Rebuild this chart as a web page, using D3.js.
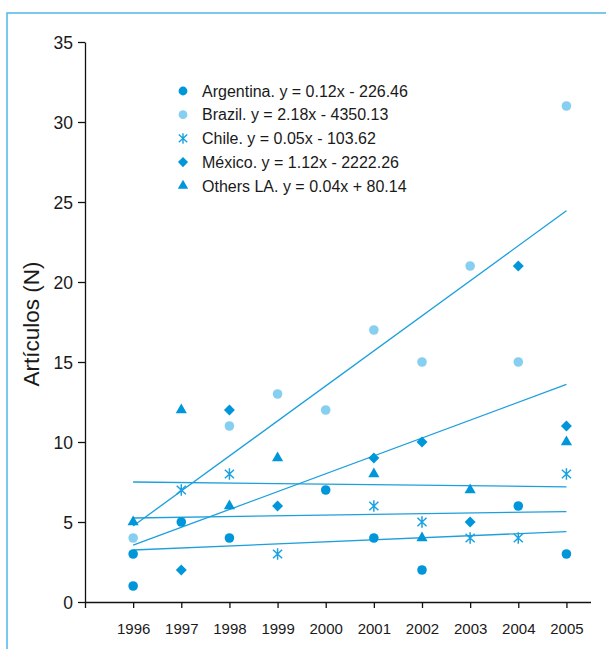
<!DOCTYPE html>
<html>
<head>
<meta charset="utf-8">
<title>Artículos por país</title>
<script src="https://cdn.jsdelivr.net/npm/d3@7/dist/d3.min.js"></script>
<style>
  body { margin: 0; background: #fff; }
  text { font-family: "Liberation Sans", Arial, sans-serif; fill: #1a1a1a; }
</style>
</head>
<body>
<svg width="606" height="649"></svg>
<script>
    // years on the x axis (1995 is only a bare tick at the origin)
    const years = [1996, 1997, 1998, 1999, 2000, 2001, 2002, 2003, 2004, 2005];
    const yTicks = [0, 5, 10, 15, 20, 25, 30, 35];

    // [year, articles]
    const argentina = [[1996, 1], [1996, 3], [1997, 5], [1998, 4], [2000, 7], [2001, 4], [2002, 2], [2004, 6], [2005, 3]];
    const brazil = [[1996, 4], [1998, 11], [1999, 13], [2000, 12], [2001, 17], [2002, 15], [2003, 21], [2004, 15], [2005, 31]];
    const chile = [[1997, 7], [1998, 8], [1999, 3], [2001, 6], [2002, 5], [2003, 4], [2004, 4], [2005, 8]];
    const mexico = [[1997, 2], [1998, 12], [1999, 6], [2001, 9], [2002, 10], [2003, 5], [2004, 21], [2005, 11]];
    const others = [[1996, 5], [1997, 12], [1998, 6], [1999, 9], [2001, 8], [2002, 4], [2003, 7], [2005, 10]];

    // trend line values at 1996 and 2005
    const trendStart = [3.25, 4.75, 5.25, 3.55, 7.5];
    const trendEnd = [4.4, 24.45, 5.65, 13.6, 7.2];

    const labels = [
        "Argentina. y = 0.12x - 226.46",
        "Brazil. y = 2.18x - 4350.13",
        "Chile. y = 0.05x - 103.62",
        "México. y = 1.12x - 2222.26",
        "Others LA. y = 0.04x + 80.14"
    ];

    const dark = "#0096da";
    const light = "#86cff0";
    const lineColor = "#1c9fdc";

    // Chile marker: X with a vertical bar
    const asterisk = {
        draw(ctx, size) {
            const r = Math.sqrt(size) / 2;
            ctx.moveTo(0, -r); ctx.lineTo(0, r);
            ctx.moveTo(-r * 0.8, -r * 0.75); ctx.lineTo(r * 0.8, r * 0.75);
            ctx.moveTo(r * 0.8, -r * 0.75); ctx.lineTo(-r * 0.8, r * 0.75);
        }
    };
    const diamond = {
        draw(ctx, size) {
            const r = Math.sqrt(size * 2) / 2;
            ctx.moveTo(0, -r); ctx.lineTo(r, 0); ctx.lineTo(0, r); ctx.lineTo(-r, 0); ctx.closePath();
        }
    };

    const series = [
        { data: argentina, sym: d3.symbolCircle, size: 72, fill: dark },
        { data: brazil, sym: d3.symbolCircle, size: 72, fill: light },
        { data: chile, sym: asterisk, size: 130, stroke: "#1aa2e0" },
        { data: mexico, sym: diamond, size: 60, fill: dark },
        { data: others, sym: d3.symbolTriangle, size: 54, fill: dark }
    ];

    const svg = d3.select("svg");

    // frame
    svg.append("path")
        .attr("d", "M7,649V13H606")
        .attr("fill", "none")
        .attr("stroke", "#4db8e6")
        .attr("stroke-width", 1.5);

    const x = d3.scaleLinear().domain([1995, 2005.5]).range([85, 590.5]);
    const y = d3.scaleLinear().domain([0, 35]).range([602, 42]);

    const xAxis = svg.append("g")
        .attr("transform", "translate(0,602)")
        .call(d3.axisBottom(x)
            .tickValues([1995].concat(years))
            .tickFormat(d => d === 1995 ? "" : d)
            .tickSize(6).tickSizeOuter(0).tickPadding(15));

    const yAxis = svg.append("g")
        .attr("transform", "translate(85,0)")
        .call(d3.axisLeft(y).tickValues(yTicks).tickSize(7).tickSizeOuter(0).tickPadding(5));

    [xAxis, yAxis].forEach(g => {
        g.selectAll("path, line").attr("stroke", "#111").attr("stroke-width", 1.3);
        g.selectAll("text").attr("fill", "#1a1a1a")
            .attr("font-family", "'Liberation Sans', Arial, sans-serif");
    });
    xAxis.selectAll("text").attr("font-size", 15);
    yAxis.selectAll("text").attr("font-size", 17.5).attr("dy", "0.38em");

    svg.append("text")
        .attr("transform", "translate(39,324) rotate(-90)")
        .attr("text-anchor", "middle")
        .attr("font-size", 22.5)
        .text("Artículos (N)");

    // trend lines
    svg.append("g").selectAll("line")
        .data(trendStart)
        .join("line")
        .attr("x1", x(1996))
        .attr("x2", x(2005))
        .attr("y1", d => y(d))
        .attr("y2", (d, i) => y(trendEnd[i]))
        .attr("stroke", lineColor)
        .attr("stroke-width", 1.3);

    // points
    series.forEach(s => {
        svg.append("g").selectAll("path")
            .data(s.data)
            .join("path")
            .attr("transform", d => "translate(" + x(d[0]) + "," + y(d[1]) + ")")
            .attr("d", d3.symbol(s.sym, s.size))
            .attr("fill", s.fill || "none")
            .attr("stroke", s.stroke || "none")
            .attr("stroke-width", 1.5);
    });

    // legend
    const legend = svg.append("g").selectAll("g")
        .data(series)
        .join("g")
        .attr("transform", (d, i) => "translate(183," + (91 + i * 23.7) + ")");

    legend.append("path")
        .attr("d", d => d3.symbol(d.sym, d.size * 0.85)())
        .attr("fill", d => d.fill || "none")
        .attr("stroke", d => d.stroke || "none")
        .attr("stroke-width", 1.4);

    legend.append("text")
        .attr("x", 19)
        .attr("dy", "0.36em")
        .attr("font-size", 16)
        .text((d, i) => labels[i]);
</script>
</body>
</html>
